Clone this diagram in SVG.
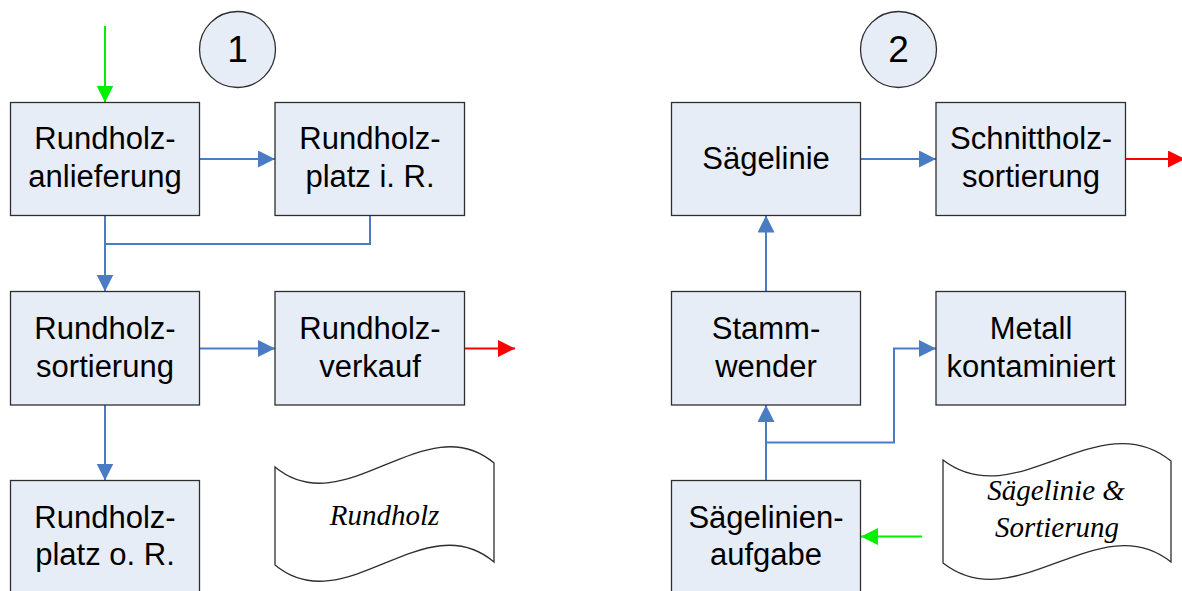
<svg xmlns="http://www.w3.org/2000/svg" width="1182" height="591" viewBox="0 0 1182 591">
  <style>
    .box { fill: #E7EDF7; stroke: #2E2E2E; stroke-width: 1.3; }
    .doc { fill: #FFFFFF; stroke: #2E2E2E; stroke-width: 1.3; }
    .num { fill: #E7EDF7; stroke: #2E2E2E; stroke-width: 1.3; }
    .lbl { font-family: "Liberation Sans", Arial, sans-serif; font-size: 31px; fill: #000; text-anchor: middle; }
    .nlbl { font-family: "Liberation Sans", Arial, sans-serif; font-size: 37px; fill: #000; text-anchor: middle; }
    .dlbl { font-family: "Liberation Serif", "Times New Roman", serif; font-style: italic; font-size: 29px; fill: #000; text-anchor: middle; }
    .flow { fill: none; stroke: #4A7CC4; stroke-width: 2; }
    .in { fill: none; stroke: #00F000; stroke-width: 2; }
    .out { fill: none; stroke: #FF0000; stroke-width: 2; }
  </style>
  <defs>
    <marker id="ah-blue" markerUnits="userSpaceOnUse" markerWidth="18" markerHeight="18" refX="17" refY="8.5" orient="auto">
      <path d="M0,0 L17,8.5 L0,17 Z" fill="#4A7CC4"/>
    </marker>
    <marker id="ah-green" markerUnits="userSpaceOnUse" markerWidth="18" markerHeight="18" refX="17" refY="8.5" orient="auto">
      <path d="M0,0 L17,8.5 L0,17 Z" fill="#00F000"/>
    </marker>
    <marker id="ah-red" markerUnits="userSpaceOnUse" markerWidth="18" markerHeight="18" refX="17" refY="8.5" orient="auto">
      <path d="M0,0 L17,8.5 L0,17 Z" fill="#FF0000"/>
    </marker>
  </defs>
  <rect width="1182" height="591" fill="#FFFFFF"/>

  <!-- connectors -->
  <g id="connectors">
    <!-- section 1 -->
    <line class="in" x1="105" y1="26" x2="105" y2="102.5" marker-end="url(#ah-green)"/>
    <line class="flow" x1="199.5" y1="159" x2="275" y2="159" marker-end="url(#ah-blue)"/>
    <line class="flow" x1="105" y1="215.5" x2="105" y2="291.5" marker-end="url(#ah-blue)"/>
    <polyline class="flow" points="370,215.5 370,244 105,244"/>
    <line class="flow" x1="199.5" y1="348.5" x2="275" y2="348.5" marker-end="url(#ah-blue)"/>
    <line class="out" x1="464.5" y1="348.5" x2="515" y2="348.5" marker-end="url(#ah-red)"/>
    <line class="flow" x1="105" y1="405" x2="105" y2="480.5" marker-end="url(#ah-blue)"/>
    <!-- section 2 -->
    <line class="flow" x1="860.5" y1="159" x2="936" y2="159" marker-end="url(#ah-blue)"/>
    <line class="out" x1="1125.5" y1="159" x2="1185" y2="159" marker-end="url(#ah-red)"/>
    <line class="flow" x1="766" y1="291.5" x2="766" y2="215.5" marker-end="url(#ah-blue)"/>
    <line class="flow" x1="766" y1="480.5" x2="766" y2="405" marker-end="url(#ah-blue)"/>
    <polyline class="flow" points="766,442.5 894,442.5 894,348.5 936,348.5" marker-end="url(#ah-blue)"/>
    <line class="in" x1="922" y1="536.5" x2="861" y2="536.5" marker-end="url(#ah-green)"/>
  </g>

  <!-- section 1 -->
  <g id="marker-1">
    <circle class="num" cx="237.5" cy="49.5" r="38"/>
    <text class="nlbl" x="237.5" y="62">1</text>
  </g>
  <g id="rundholz-anlieferung">
    <rect class="box" x="10.5" y="102.5" width="189" height="113"/>
    <text class="lbl" x="105" y="149">Rundholz-</text>
    <text class="lbl" x="105" y="186.5">anlieferung</text>
  </g>
  <g id="rundholzplatz-ir">
    <rect class="box" x="275" y="102.5" width="189.5" height="113"/>
    <text class="lbl" x="370" y="149">Rundholz-</text>
    <text class="lbl" x="370" y="186.5">platz i. R.</text>
  </g>
  <g id="rundholz-sortierung">
    <rect class="box" x="10.5" y="291.5" width="189" height="113.5"/>
    <text class="lbl" x="105" y="339">Rundholz-</text>
    <text class="lbl" x="105" y="376.5">sortierung</text>
  </g>
  <g id="rundholz-verkauf">
    <rect class="box" x="275" y="291.5" width="189.5" height="113.5"/>
    <text class="lbl" x="370" y="339">Rundholz-</text>
    <text class="lbl" x="370" y="376.5">verkauf</text>
  </g>
  <g id="rundholzplatz-or">
    <rect class="box" x="10.5" y="480.5" width="189" height="120"/>
    <text class="lbl" x="105" y="528">Rundholz-</text>
    <text class="lbl" x="105" y="565">platz o. R.</text>
  </g>
  <g id="doc-rundholz">
    <path class="doc" d="M275,467 C345,525 425,405 494,463 L494,562 C425,503 345,623 275,565 Z"/>
    <text class="dlbl" x="384.5" y="525">Rundholz</text>
  </g>

  <!-- section 2 -->
  <g id="marker-2">
    <circle class="num" cx="898.5" cy="49.5" r="38"/>
    <text class="nlbl" x="898.5" y="62">2</text>
  </g>
  <g id="saegelinie">
    <rect class="box" x="671.5" y="102.5" width="189" height="113"/>
    <text class="lbl" x="766" y="168.5">Sägelinie</text>
  </g>
  <g id="schnittholz-sortierung">
    <rect class="box" x="936" y="102.5" width="189.5" height="113"/>
    <text class="lbl" x="1031" y="149">Schnittholz-</text>
    <text class="lbl" x="1031" y="186.5">sortierung</text>
  </g>
  <g id="stammwender">
    <rect class="box" x="671.5" y="291.5" width="189" height="113.5"/>
    <text class="lbl" x="766" y="339">Stamm-</text>
    <text class="lbl" x="766" y="376.5">wender</text>
  </g>
  <g id="metall-kontaminiert">
    <rect class="box" x="936" y="291.5" width="189.5" height="113.5"/>
    <text class="lbl" x="1031" y="339">Metall</text>
    <text class="lbl" x="1031" y="376.5">kontaminiert</text>
  </g>
  <g id="saegelinien-aufgabe">
    <rect class="box" x="671.5" y="480.5" width="189" height="120"/>
    <text class="lbl" x="766" y="528">Sägelinien-</text>
    <text class="lbl" x="766" y="565">aufgabe</text>
  </g>
  <g id="doc-saegelinie-sortierung">
    <path class="doc" d="M943,460 C1016,516 1099,402 1171,461 L1171,562 C1099,505 1016,620 943,563 Z"/>
    <text class="dlbl" x="1056" y="500">Sägelinie &amp;</text>
    <text class="dlbl" x="1057" y="536.5">Sortierung</text>
  </g>
</svg>
